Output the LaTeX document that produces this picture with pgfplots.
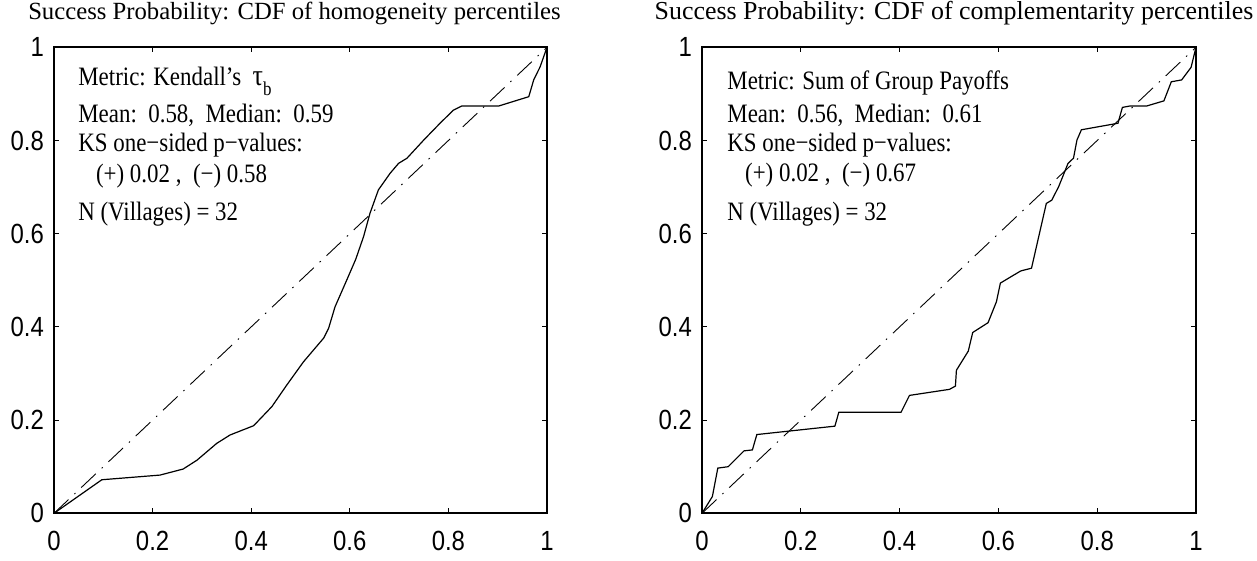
\documentclass[border=0pt]{standalone}
\usepackage{pgfplots}
\pgfplotsset{compat=1.18}
\usepackage{fontspec}
\usepackage{graphicx}
\setmainfont{Liberation Serif}
\newfontfamily\helv{Liberation Sans}
\newcommand{\vs}[1]{\scalebox{1}[1.16]{#1}}
\newcommand{\ann}{\fontsize{23}{23}\selectfont}

\pgfplotsset{
  cdfax/.style={
    scale only axis,
    height=466bp,
    xmin=0, xmax=1, ymin=0, ymax=1,
    xtick={0,0.2,0.4,0.6,0.8,1},
    ytick={0,0.2,0.4,0.6,0.8,1},
    xticklabels={\vs{0},\vs{0.2},\vs{0.4},\vs{0.6},\vs{0.8},\vs{1}},
    yticklabels={\vs{0},\vs{0.2},\vs{0.4},\vs{0.6},\vs{0.8},\vs{1}},
    tick align=inside,
    major tick length=5bp,
    tick style={black, line width=0.8bp},
    axis line style={black, line width=1.6bp},
    tick label style={font=\helv\fontsize{24}{24}\selectfont},
    xticklabel style={anchor=north, inner sep=0pt, yshift=-18bp},
    yticklabel style={anchor=east, inner sep=0pt, xshift=-10bp},
    title style={anchor=base, at={(0.5,1)}, yshift=22bp, inner sep=0pt},
    clip=false,
  },
  diag/.style={black, line width=0.9bp, dash pattern=on 20bp off 8bp on 1.5bp off 8bp},
  cdf/.style={black, line width=1.2bp},
}

\begin{document}
\begin{tikzpicture}
\useasboundingbox (0,0) rectangle (1257bp,561bp);

\begin{axis}[cdfax, width=493bp, at={(54bp,47.7bp)}, anchor=south west,
  title style={font=\fontsize{24.8}{24.8}\selectfont, xshift=-6bp},
  title={Success Probability: CDF of homogeneity percentiles}]
\addplot[diag] coordinates {(0,0) (1,1)};
\addplot[cdf] table {%
0 0
0.097 0.072
0.215 0.082
0.262 0.095
0.290 0.114
0.330 0.150
0.357 0.168
0.405 0.188
0.442 0.229
0.472 0.275
0.506 0.325
0.547 0.376
0.557 0.397
0.570 0.443
0.594 0.501
0.612 0.545
0.628 0.594
0.641 0.644
0.658 0.694
0.682 0.730
0.699 0.751
0.716 0.762
0.750 0.801
0.783 0.837
0.810 0.865
0.827 0.874
0.902 0.874
0.963 0.894
0.973 0.930
0.986 0.958
1 1
};
\node[anchor=base west, inner sep=0pt, font=\ann] at (axis cs:0.049,0.919)
  {\vs{Metric: Kendall’s\ \ {\fontsize{26}{26}\selectfont τ}\raisebox{-9bp}{\fontsize{17}{17}\selectfont b}}};
\node[anchor=base west, inner sep=0pt, font=\ann] at (axis cs:0.049,0.838)
  {\vs{Mean:\ \ 0.58,\ \ Median:\ \ 0.59}};
\node[anchor=base west, inner sep=0pt, font=\ann] at (axis cs:0.049,0.776)
  {\vs{KS one−sided p−values:}};
\node[anchor=base west, inner sep=0pt, font=\ann] at (axis cs:0.085,0.710)
  {\vs{(+) 0.02 ,\ \ (−) 0.58}};
\node[anchor=base west, inner sep=0pt, font=\ann] at (axis cs:0.049,0.629)
  {\vs{N (Villages) = 32}};
\end{axis}

\begin{axis}[cdfax, width=494bp, at={(702bp,47.7bp)}, anchor=south west,
  title style={font=\fontsize{26}{26}\selectfont, xshift=5bp},
  title={Success Probability: CDF of complementarity percentiles}]
\addplot[diag] coordinates {(0,0) (1,1)};
\addplot[cdf] table {%
0 0
0.021 0.036
0.032 0.097
0.053 0.100
0.085 0.134
0.102 0.136
0.111 0.169
0.269 0.187
0.277 0.217
0.403 0.217
0.420 0.253
0.501 0.266
0.513 0.273
0.515 0.307
0.539 0.348
0.548 0.388
0.579 0.409
0.596 0.454
0.604 0.494
0.645 0.520
0.667 0.526
0.697 0.665
0.708 0.672
0.722 0.701
0.741 0.751
0.752 0.762
0.759 0.801
0.768 0.823
0.842 0.837
0.851 0.871
0.866 0.874
0.900 0.874
0.935 0.885
0.950 0.926
0.971 0.930
0.990 0.957
1 1
};
\node[anchor=base west, inner sep=0pt, font=\ann] at (axis cs:0.051,0.910)
  {\vs{Metric: Sum of Group Payoffs}};
\node[anchor=base west, inner sep=0pt, font=\ann] at (axis cs:0.051,0.838)
  {\vs{Mean:\ \ 0.56,\ \ Median:\ \ 0.61}};
\node[anchor=base west, inner sep=0pt, font=\ann] at (axis cs:0.051,0.776)
  {\vs{KS one−sided p−values:}};
\node[anchor=base west, inner sep=0pt, font=\ann] at (axis cs:0.087,0.712)
  {\vs{(+) 0.02 ,\ \ (−) 0.67}};
\node[anchor=base west, inner sep=0pt, font=\ann] at (axis cs:0.051,0.629)
  {\vs{N (Villages) = 32}};
\end{axis}
\end{tikzpicture}
\end{document}
